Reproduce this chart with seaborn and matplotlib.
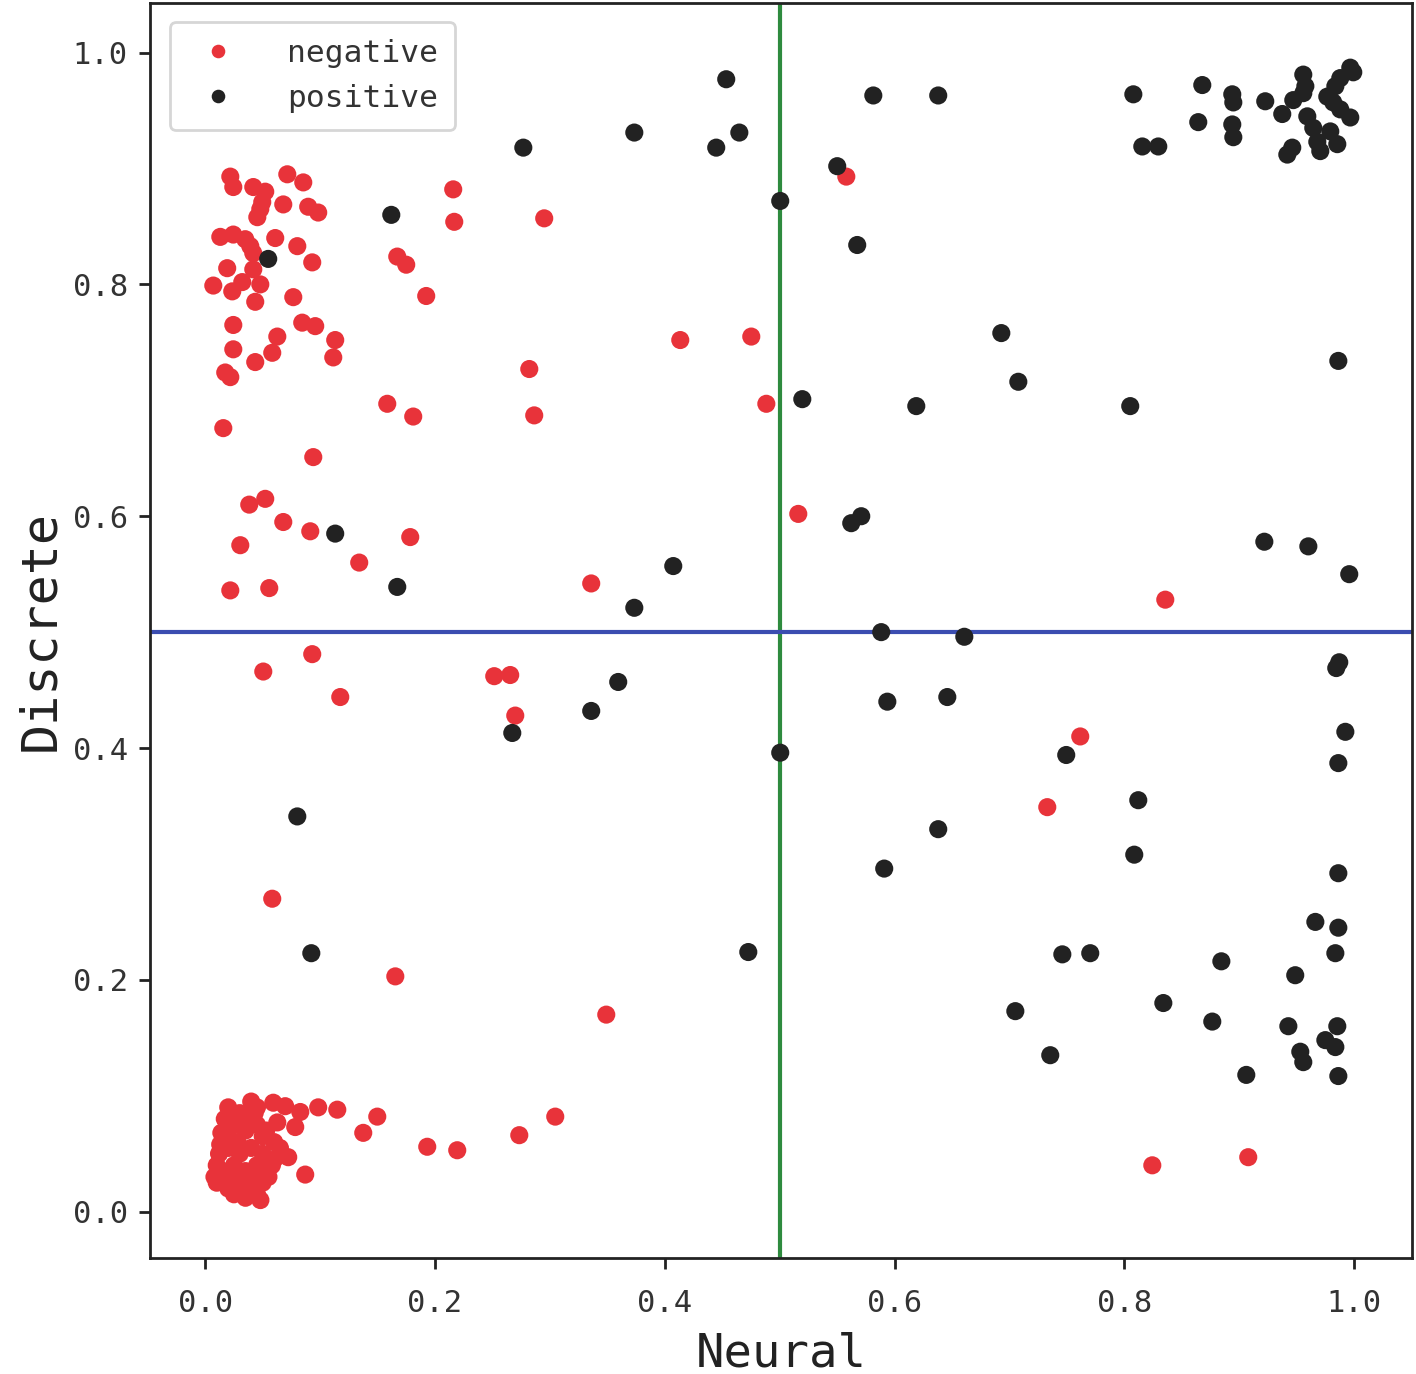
import matplotlib
matplotlib.use("Agg")
import matplotlib.pyplot as plt
import seaborn as sns
import pandas as pd

# negative (red) points
neg_x = [0.0218, 0.0244, 0.0714, 0.0853, 0.0418, 0.0522, 0.0496, 0.0479, 0.0453, 0.0679,
         0.0896, 0.0983, 0.0131, 0.0244, 0.0348, 0.0392, 0.0418, 0.0609, 0.0801, 0.0931,
         0.0191, 0.0418, 0.0070, 0.0322, 0.0235, 0.0479, 0.0435, 0.0766, 0.0244, 0.0844,
         0.0957, 0.0627, 0.1131, 0.0244, 0.0583, 0.0435, 0.1114, 0.0174, 0.0218, 0.0157,
         0.0940, 0.0522, 0.0383, 0.0679, 0.0914, 0.0305, 0.1340, 0.0218, 0.0557,
         0.1671, 0.1749, 0.1923, 0.2158, 0.2167, 0.2950, 0.2820, 0.2863, 0.1584, 0.1810,
         0.1784, 0.3359, 0.4134, 0.4752, 0.4883, 0.5579, 0.5161, 0.8355, 0.0505, 0.0931,
         0.1175, 0.2515, 0.2654, 0.2698, 0.7615, 0.7328, 0.0583, 0.1654, 0.3490, 0.3046,
         0.2733, 0.2193, 0.1932, 0.1497, 0.1375, 0.1149, 0.0983, 0.0870, 0.8242, 0.9077,
         0.0592, 0.0696, 0.0827, 0.0627, 0.0783, 0.0722,
         0.020, 0.030, 0.040, 0.045, 0.025, 0.035, 0.045, 0.050, 0.015, 0.020,
         0.030, 0.040, 0.050, 0.060, 0.065, 0.010, 0.015, 0.025, 0.035, 0.045,
         0.010, 0.020, 0.030, 0.040, 0.050, 0.025, 0.035, 0.048, 0.055, 0.060,
         0.020, 0.038, 0.028, 0.012, 0.045,
         0.008, 0.018, 0.028, 0.042, 0.052, 0.014, 0.024, 0.043, 0.017, 0.053,
         0.031, 0.013, 0.058]
neg_y = [0.893, 0.884, 0.895, 0.888, 0.884, 0.880, 0.871, 0.865, 0.858, 0.869,
         0.867, 0.862, 0.841, 0.843, 0.839, 0.833, 0.827, 0.840, 0.833, 0.819,
         0.814, 0.813, 0.799, 0.802, 0.794, 0.800, 0.785, 0.789, 0.765, 0.767,
         0.764, 0.755, 0.752, 0.744, 0.741, 0.733, 0.737, 0.724, 0.720, 0.676,
         0.651, 0.615, 0.610, 0.595, 0.587, 0.575, 0.560, 0.536, 0.538,
         0.824, 0.817, 0.790, 0.882, 0.854, 0.857, 0.727, 0.687, 0.697, 0.686,
         0.582, 0.542, 0.752, 0.755, 0.697, 0.893, 0.602, 0.528, 0.466, 0.481,
         0.444, 0.462, 0.463, 0.428, 0.410, 0.349, 0.270, 0.203, 0.170, 0.082,
         0.066, 0.053, 0.056, 0.082, 0.068, 0.088, 0.090, 0.032, 0.040, 0.047,
         0.094, 0.091, 0.086, 0.077, 0.073, 0.047,
         0.090, 0.085, 0.095, 0.090, 0.075, 0.070, 0.075, 0.065, 0.060, 0.055,
         0.050, 0.055, 0.050, 0.060, 0.055, 0.040, 0.035, 0.040, 0.035, 0.040,
         0.025, 0.020, 0.025, 0.020, 0.025, 0.015, 0.012, 0.010, 0.030, 0.045,
         0.065, 0.080, 0.060, 0.050, 0.015,
         0.030, 0.030, 0.032, 0.030, 0.040, 0.068, 0.082, 0.085, 0.080, 0.070,
         0.018, 0.058, 0.040]

# positive (black) points
pos_x = [0.4534, 0.3734, 0.4648, 0.4447, 0.2768, 0.5814, 0.6379, 0.5500, 0.5004, 0.5674,
         0.1619, 0.0548, 0.6928, 0.7076, 0.8050, 0.6188, 0.5196, 0.9861, 0.5622, 0.5709,
         0.9217, 0.9600, 0.9956, 0.4073, 0.3734, 0.1671, 0.1131, 0.5883, 0.6606, 0.3594,
         0.3359, 0.2672, 0.5936, 0.6458, 0.9843, 0.9869, 0.9922, 0.9861, 0.5004, 0.7493,
         0.0801, 0.8120, 0.6379, 0.8085, 0.5909, 0.9861, 0.0923, 0.4726, 0.7459, 0.7702,
         0.8843, 0.8338, 0.7050, 0.8764, 0.7354, 0.9661, 0.9861, 0.9835, 0.9486, 0.9426,
         0.9852, 0.9748, 0.9835, 0.9530, 0.9556, 0.9060, 0.9861,
         0.8077, 0.8677, 0.8642, 0.8155, 0.8294, 0.8938, 0.8947, 0.8938, 0.8947, 0.9225,
         0.9373, 0.9417, 0.9460, 0.9556, 0.9574, 0.9556, 0.9469, 0.9591, 0.9643, 0.9678,
         0.9704, 0.9791, 0.9852, 0.9765, 0.9835, 0.9878, 0.9965, 0.9991, 0.9878, 0.9965,
         0.9817]
pos_y = [0.977, 0.931, 0.931, 0.918, 0.918, 0.963, 0.963, 0.902, 0.872, 0.834,
         0.860, 0.822, 0.758, 0.716, 0.695, 0.695, 0.701, 0.734, 0.594, 0.600,
         0.578, 0.574, 0.550, 0.557, 0.521, 0.539, 0.585, 0.500, 0.496, 0.457,
         0.432, 0.413, 0.440, 0.444, 0.469, 0.474, 0.414, 0.387, 0.396, 0.394,
         0.341, 0.355, 0.330, 0.308, 0.296, 0.292, 0.223, 0.224, 0.222, 0.223,
         0.216, 0.180, 0.173, 0.164, 0.135, 0.250, 0.245, 0.223, 0.204, 0.160,
         0.160, 0.148, 0.142, 0.138, 0.129, 0.118, 0.117,
         0.964, 0.972, 0.940, 0.919, 0.919, 0.964, 0.957, 0.938, 0.927, 0.958,
         0.947, 0.912, 0.918, 0.981, 0.971, 0.965, 0.959, 0.945, 0.935, 0.923,
         0.915, 0.932, 0.921, 0.962, 0.971, 0.978, 0.987, 0.983, 0.951, 0.944,
         0.957]

x_ticks = [0.0, 0.2, 0.4, 0.6, 0.8, 1.0]
y_ticks = [0.0, 0.2, 0.4, 0.6, 0.8, 1.0]
x_ticklabels = ["0.0", "0.2", "0.4", "0.6", "0.8", "1.0"]
y_ticklabels = ["0.0", "0.2", "0.4", "0.6", "0.8", "1.0"]

df = pd.DataFrame({
    "Neural": neg_x + pos_x,
    "Discrete": neg_y + pos_y,
    "label": ["negative"] * len(neg_x) + ["positive"] * len(pos_x),
})

sns.set_style("white")
plt.rcParams["font.family"] = ["DejaVu Sans Mono", "DejaVu Sans"]

fig = plt.figure(figsize=(14.16, 13.74), dpi=100)
ax = fig.add_axes([0.106, 0.0844, 0.891, 0.9136])

RED = "#e8333a"
BLACK = "#222222"
sns.scatterplot(data=df, x="Neural", y="Discrete", hue="label",
                hue_order=["negative", "positive"],
                palette={"negative": RED, "positive": BLACK},
                s=170, linewidth=0, ax=ax, zorder=3)

ax.axvline(0.5, color="#2e8b3e", lw=3, zorder=2)
ax.axhline(0.5, color="#3b4db0", lw=3, zorder=2)

ax.set_xlim(-0.048, 1.050)
ax.set_ylim(-0.040, 1.043)
ax.set_xticks(x_ticks)
ax.set_xticklabels(x_ticklabels)
ax.set_yticks(y_ticks)
ax.set_yticklabels(y_ticklabels)
ax.tick_params(axis="both", direction="out", length=8, width=2, colors="#222222",
               labelsize=22, labelcolor="#333333", left=True, bottom=True, pad=8)
ax.tick_params(axis="x", pad=14)

for sp in ax.spines.values():
    sp.set_color("#222222")
    sp.set_linewidth(2)

ax.set_xlabel("Neural", fontsize=34, color="#222222", labelpad=10)
ax.set_ylabel("Discrete", fontsize=36, color="#222222", labelpad=6)

leg = ax.legend(loc="upper left", fontsize=22.5, markerscale=0.75, handletextpad=1.2,
                frameon=True, fancybox=True, borderpad=0.55, labelspacing=0.5,
                bbox_to_anchor=(0.003, 0.997), title=None)
leg.get_frame().set_edgecolor("#cccccc")
leg.get_frame().set_linewidth(2)
for t in leg.get_texts():
    t.set_color("#333333")

fig.savefig("out.png", dpi=100)
